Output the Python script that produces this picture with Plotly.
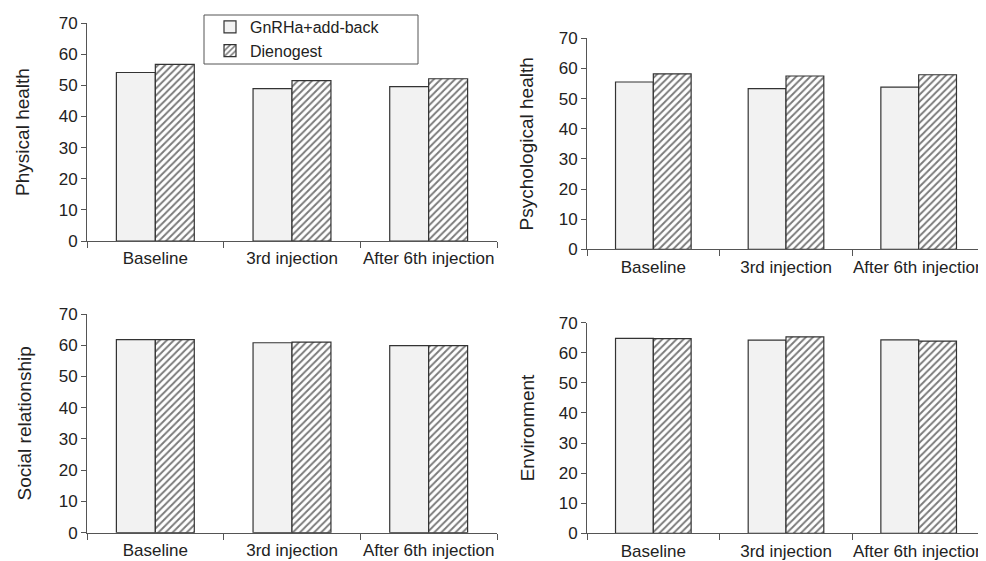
import plotly.graph_objects as go

categories = ["Baseline", "3rd injection", "After 6th injection"]
series_names = ["GnRHa+add-back", "Dienogest"]

physical_gnrha = [54.1, 48.9, 49.6]
physical_dien = [56.7, 51.5, 52.1]
psych_gnrha = [55.5, 53.3, 53.8]
psych_dien = [58.2, 57.5, 57.9]
social_gnrha = [61.8, 60.8, 59.9]
social_dien = [61.8, 61.0, 59.9]
env_gnrha = [64.8, 64.2, 64.3]
env_dien = [64.7, 65.3, 63.9]

y_ticks = [0, 10, 20, 30, 40, 50, 60, 70]
panel_titles = ["Physical health", "Psychological health", "Social relationship", "Environment"]

# page body has an 8px margin; figure fills the rest of the 986x561 window
OFF = 8
W, H = 986 - OFF, 561 - OFF


def px(x):
    return (x - OFF) / W


def py(y):
    return 1 - (y - OFF) / H


# pixel boxes in window coords: (x_left, x_right, y_bottom, y_top)
boxes = [
    (87, 497, 241, 23),
    (587, 985, 249.3, 38.3),
    (87, 497, 532.7, 314),
    (587, 985, 533.3, 322.7),
]
title_standoffs = [24, 20, 22, 19]
data_pairs = [
    (physical_gnrha, physical_dien),
    (psych_gnrha, psych_dien),
    (social_gnrha, social_dien),
    (env_gnrha, env_dien),
]

TEXT = "#222222"
AXIS = "#555555"
FONT = "Liberation Sans, Arial, sans-serif"

fig = go.Figure()
for i, (g, d) in enumerate(data_pairs):
    sfx = "" if i == 0 else str(i + 1)
    fig.add_trace(go.Bar(
        x=categories, y=g, name=series_names[0], xaxis="x" + sfx, yaxis="y" + sfx,
        marker=dict(color="#f2f2f2", line=dict(color="#333333", width=1.2)),
        showlegend=(i == 0), legendgroup="a",
    ))
    fig.add_trace(go.Bar(
        x=categories, y=d, name=series_names[1], xaxis="x" + sfx, yaxis="y" + sfx,
        marker=dict(color="white", line=dict(color="#333333", width=1.2),
                    pattern=dict(shape="/", fgcolor="#7a7a7a", bgcolor="white",
                                 size=5, solidity=0.38)),
        showlegend=(i == 0), legendgroup="b",
    ))

layout = dict(
    template="none",
    width=W, height=H, margin=dict(l=0, r=0, t=0, b=0, autoexpand=False),
    paper_bgcolor="white", plot_bgcolor="white",
    barmode="group", bargap=0.43, bargroupgap=0,
    font=dict(family=FONT, size=17, color=TEXT),
    showlegend=True,
    legend=dict(x=px(210), y=py(10), xanchor="left", yanchor="top",
                bgcolor="rgba(0,0,0,0)", borderwidth=0,
                font=dict(size=16, color=TEXT), tracegroupgap=0,
                itemwidth=30),
)
for i, (xl, xr, yb, yt) in enumerate(boxes):
    sfx = "" if i == 0 else str(i + 1)
    layout["xaxis" + sfx] = dict(
        domain=[px(xl), px(xr)], anchor="y" + sfx, automargin=False,
        type="category", range=[-0.5, 2.5],
        showline=True, linecolor=AXIS, linewidth=1,
        ticks="outside", tickson="boundaries", ticklen=6, tickcolor=AXIS,
        showgrid=False, zeroline=False, tickangle=0,
        tickfont=dict(size=17, color=TEXT), ticklabelstandoff=2,
        fixedrange=True,
    )
    layout["yaxis" + sfx] = dict(
        domain=[py(yb), py(yt)], anchor="x" + sfx, automargin=False,
        range=[0, 70], tickvals=y_ticks,
        showline=True, linecolor=AXIS, linewidth=1,
        ticks="outside", ticklen=5, tickcolor=AXIS,
        showgrid=False, zeroline=False,
        tickfont=dict(size=17, color=TEXT),
        title=dict(text=panel_titles[i], font=dict(size=19, color=TEXT),
                   standoff=title_standoffs[i]),
        fixedrange=True,
    )
layout["shapes"] = [dict(type="rect", xref="paper", yref="paper",
                         x0=px(204), x1=px(418), y0=py(64), y1=py(15),
                         line=dict(color=AXIS, width=1), fillcolor="rgba(0,0,0,0)")]
fig.update_layout(**layout)
fig.write_html("out.html")
